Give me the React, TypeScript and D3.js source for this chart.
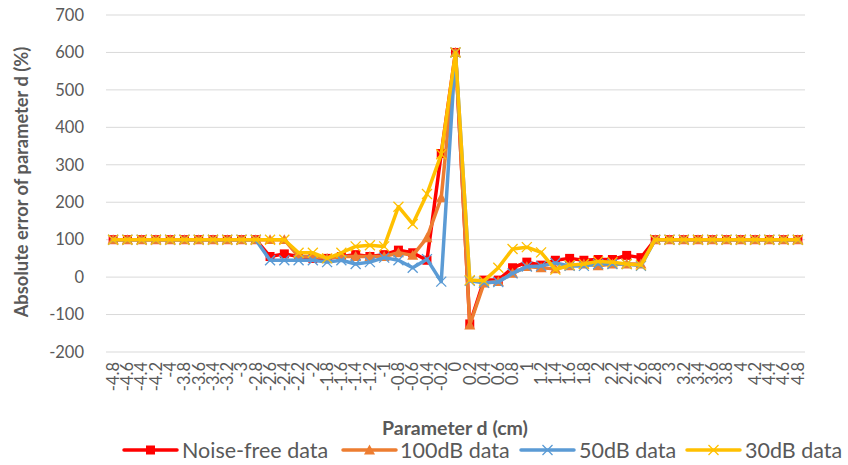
import React from "react";
import * as d3 from "d3";

const W = 848;
const H = 465;

// Parameter d from -4.8 to 4.8 cm in 0.2 cm steps
const dValues: number[] = [
  -4.8, -4.6, -4.4, -4.2, -4.0, -3.8, -3.6, -3.4, -3.2, -3.0,
  -2.8, -2.6, -2.4, -2.2, -2.0, -1.8, -1.6, -1.4, -1.2, -1.0,
  -0.8, -0.6, -0.4, -0.2, 0, 0.2, 0.4, 0.6, 0.8, 1.0,
  1.2, 1.4, 1.6, 1.8, 2.0, 2.2, 2.4, 2.6, 2.8, 3.0,
  3.2, 3.4, 3.6, 3.8, 4.0, 4.2, 4.4, 4.6, 4.8,
];

// plain hyphen for the minus sign
const categoryLabels: string[] = dValues.map((v) => d3.format("~g")(v).replace("\u2212", "-"));

const noiseFree: number[] = [
  100, 100, 100, 100, 100, 100, 100, 100, 100, 100,
  100, 55, 62, 55, 50, 50, 55, 60, 55, 60,
  72, 65, 45, 330, 600, -125, -8, -8, 25, 40,
  32, 45, 50, 45, 47, 47, 58, 52, 100, 100,
  100, 100, 100, 100, 100, 100, 100, 100, 100,
];

const db100: number[] = [
  100, 100, 100, 100, 100, 100, 100, 100, 100, 100,
  100, 100, 100, 55, 55, 50, 55, 55, 55, 55,
  65, 58, 105, 212, 600, -128, -16, -12, 10, 28,
  25, 22, 30, 35, 30, 35, 35, 35, 100, 100,
  100, 100, 100, 100, 100, 100, 100, 100, 100,
];

const db50: number[] = [
  100, 100, 100, 100, 100, 100, 100, 100, 100, 100,
  100, 45, 45, 45, 45, 40, 45, 35, 40, 52,
  45, 25, 48, -12, 600, -10, -15, -13, 10, 28,
  30, 38, 30, 30, 35, 35, 35, 30, 100, 100,
  100, 100, 100, 100, 100, 100, 100, 100, 100,
];

const db30: number[] = [
  100, 100, 100, 100, 100, 100, 100, 100, 100, 100,
  100, 100, 100, 65, 65, 50, 65, 82, 85, 82,
  188, 142, 222, 328, 600, -8, -10, 25, 75, 80,
  66, 20, 32, 35, 42, 40, 35, 32, 100, 100,
  100, 100, 100, 100, 100, 100, 100, 100, 100,
];

const yTicks: number[] = [-200, -100, 0, 100, 200, 300, 400, 500, 600, 700];

type Marker = "square" | "triangle" | "cross";

const seriesNames: string[] = ["Noise-free data", "100dB data", "50dB data", "30dB data"];
const seriesValues: number[][] = [noiseFree, db100, db50, db30];
const seriesColors: string[] = ["#FF0000", "#ED7D31", "#5B9BD5", "#FFC000"];
const seriesMarkers: Marker[] = ["square", "triangle", "cross", "cross"];

const FONT = "Lato, 'Open Sans', sans-serif";
const TEXT = "#595959";

function MarkerShape({ kind, x, y, color }: { kind: Marker; x: number; y: number; color: string }) {
  if (kind === "square") {
    return <rect x={x - 4.5} y={y - 4.5} width={9} height={9} fill={color} />;
  }
  if (kind === "triangle") {
    const s = 5.5;
    return (
      <path
        d={`M${x},${y - s}L${x + s},${y + s * 0.8}L${x - s},${y + s * 0.8}Z`}
        fill={color}
      />
    );
  }
  const s = 5;
  return (
    <path
      d={`M${x - s},${y - s}L${x + s},${y + s}M${x - s},${y + s}L${x + s},${y - s}`}
      stroke={color}
      strokeWidth={1.3}
      fill="none"
    />
  );
}

export default function App() {
  const left = 106;
  const right = 805;
  const top = 15;
  const bottom = 352;

  const x = d3
    .scaleBand<string>()
    .domain(categoryLabels)
    .range([left, right])
    .paddingInner(0)
    .paddingOuter(0);
  const cx = (i: number) => (x(categoryLabels[i]) as number) + x.bandwidth() / 2;

  const y = d3.scaleLinear().domain([-200, 700]).range([bottom, top]);

  const line = d3
    .line<number>()
    .x((_, i) => cx(i))
    .y((v) => y(v));

  const legendItems = [
    { lineX: 124, textX: 182 },
    { lineX: 343, textX: 400 },
    { lineX: 521, textX: 579 },
    { lineX: 687, textX: 745 },
  ];

  return (
    <svg width={W} height={H} style={{ position: "absolute", left: 0, top: 0 }}>
      <rect width={W} height={H} fill="#ffffff" />
      {yTicks.map((t) => (
        <g key={t}>
          <line x1={left} x2={right} y1={y(t)} y2={y(t)} stroke="#D9D9D9" strokeWidth={1} />
          <text
            x={84}
            y={y(t)}
            dy="0.35em"
            textAnchor="end"
            fontFamily={FONT}
            fontSize={16.5}
            fill={TEXT}
          >
            {t}
          </text>
        </g>
      ))}

      {categoryLabels.map((lab, i) => (
        <text
          key={lab}
          transform={`translate(${cx(i)},${bottom + 10}) rotate(-90)`}
          textAnchor="end"
          dy="0.35em"
          fontFamily={FONT}
          fontSize={16.5}
          fill={TEXT}
        >
          {lab}
        </text>
      ))}

      {seriesValues.map((vals, s) => (
        <g key={seriesNames[s]}>
          <path
            d={line(vals) as string}
            fill="none"
            stroke={seriesColors[s]}
            strokeWidth={3.5}
            strokeLinejoin="round"
            strokeLinecap="round"
          />
          {vals.map((v, i) => (
            <MarkerShape key={i} kind={seriesMarkers[s]} x={cx(i)} y={y(v)} color={seriesColors[s]} />
          ))}
        </g>
      ))}

      <text
        transform={`translate(22,${182}) rotate(-90)`}
        textAnchor="middle"
        dy="0.35em"
        fontFamily={FONT}
        fontWeight="bold"
        fontSize={18.3}
        fill={TEXT}
      >
        Absolute error of parameter d (%)
      </text>

      <text
        x={455}
        y={428}
        textAnchor="middle"
        dy="0.35em"
        fontFamily={FONT}
        fontWeight="bold"
        fontSize={19.5}
        fill={TEXT}
      >
        Parameter d (cm)
      </text>

      {seriesNames.map((name, s) => {
        const it = legendItems[s];
        const ly = 450;
        return (
          <g key={name}>
            <line
              x1={it.lineX}
              x2={it.lineX + 53}
              y1={ly}
              y2={ly}
              stroke={seriesColors[s]}
              strokeWidth={3.5}
              strokeLinecap="round"
            />
            <MarkerShape kind={seriesMarkers[s]} x={it.lineX + 26.5} y={ly} color={seriesColors[s]} />
            <text
              x={it.textX}
              y={ly}
              dy="0.35em"
              fontFamily={FONT}
              fontSize={21.5}
              fill={TEXT}
            >
              {name}
            </text>
          </g>
        );
      })}
    </svg>
  );
}
